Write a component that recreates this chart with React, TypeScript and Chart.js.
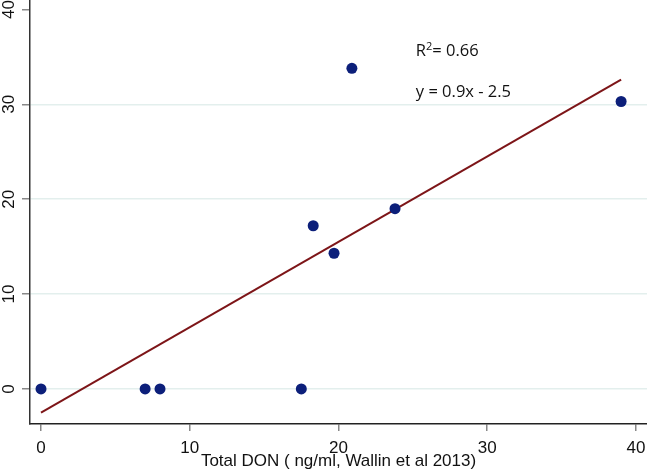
import React, { useEffect, useRef } from "react";
import { Chart, registerables } from "chart.js";

Chart.register(...registerables);

const donX: number[] = [0, 7, 8, 17.5, 18.3, 19.7, 20.9, 23.8, 39];
const donY: number[] = [0, 0, 0, 0, 17.2, 14.3, 33.8, 19.0, 30.3];
const fitX: number[] = [0, 39];
const slope = 0.9;
const intercept = -2.5;
const yTicks: number[] = [0, 10, 20, 30, 40];
const xTicks: number[] = [0, 10, 20, 30, 40];
const xTitle = "Total DON ( ng/ml, Wallin et al 2013)";
const r2Label = "0.66";
const eqLabel = "y = 0.9x - 2.5";

const annotPlugin = {
  id: "annot",
  afterDatasetsDraw(chart: any) {
    const { ctx, scales } = chart;
    const x = scales.x.getPixelForValue(25.2);
    const y1 = scales.y.getPixelForValue(35.05);
    const y2 = scales.y.getPixelForValue(30.8);
    ctx.save();
    ctx.fillStyle = "#111";
    ctx.textBaseline = "alphabetic";
    ctx.textAlign = "left";
    ctx.font = "16.5px 'Open Sans'";
    ctx.fillText("R", x, y1);
    const wR = ctx.measureText("R").width;
    ctx.font = "11px 'Open Sans'";
    ctx.fillText("2", x + wR, y1 - 6.5);
    const w2 = ctx.measureText("2").width;
    ctx.font = "16.5px 'Open Sans'";
    ctx.fillText("= " + r2Label, x + wR + w2, y1);
    ctx.fillText(eqLabel, x, y2);
    ctx.restore();
  },
};

export default function App() {
  const ref = useRef<HTMLCanvasElement | null>(null);
  useEffect(() => {
    document.body.style.margin = "0";
    const scatterData = donX.map((x, i) => ({ x, y: donY[i] }));
    const fitData = fitX.map((x) => ({ x, y: slope * x + intercept }));
    const chart = new Chart(ref.current as HTMLCanvasElement, {
      type: "scatter",
      data: {
        datasets: [
          {
            type: "scatter",
            data: scatterData,
            backgroundColor: "#0c1f7a",
            borderColor: "#0c1f7a",
            pointRadius: 5.5,
            pointHoverRadius: 5.5,
            borderWidth: 0,
          },
          {
            type: "line",
            data: fitData,
            borderColor: "#7d1518",
            borderWidth: 2,
            pointRadius: 0,
            fill: false,
          },
        ],
      },
      options: {
        responsive: false,
        animation: false,
        layout: { padding: 0, autoPadding: false },
        plugins: { legend: { display: false }, tooltip: { enabled: false } },
        scales: {
          x: {
            type: "linear",
            min: -0.74,
            max: 40.74,
            afterBuildTicks: (s: any) => {
              s.ticks = xTicks.map((v) => ({ value: v }));
            },
            afterFit: (s: any) => {
              s.height = 51;
              s.paddingLeft = 0;
              s.paddingRight = 0;
            },
            grid: {
              color: "rgba(0,0,0,0)",
              tickColor: "#888",
              tickLength: 7,
              lineWidth: 1.5,
            },
            border: { color: "#222", width: 1.5 },
            ticks: {
              color: "#111",
              font: { family: "'Liberation Sans', Arial", size: 17 },
              padding: 7,
              maxRotation: 0,
              minRotation: 0,
            },
            title: {
              display: true,
              text: xTitle,
              color: "#111",
              font: { family: "'Liberation Sans', Arial", size: 17 },
              padding: { top: 0, bottom: 3 },
            },
          },
          y: {
            type: "linear",
            min: -3.7,
            max: 41,
            afterBuildTicks: (s: any) => {
              s.ticks = yTicks.map((v) => ({ value: v }));
            },
            afterFit: (s: any) => {
              s.width = 30;
              s.paddingTop = 0;
              s.paddingBottom = 0;
            },
            grid: {
              color: (c: any) => (c.tick && c.tick.value === 40 ? "rgba(0,0,0,0)" : "#e3efed"),
              tickColor: "#888",
              tickLength: 8,
              lineWidth: 1.5,
            },
            border: { color: "#333", width: 1.5 },
            ticks: {
              color: "#111",
              font: { family: "'Liberation Sans', Arial", size: 17 },
              padding: 3,
              minRotation: 90,
              maxRotation: 90,
              crossAlign: "center",
            },
          },
        },
      },
      plugins: [annotPlugin],
    });
    return () => chart.destroy();
  }, []);
  return (
    <div style={{ position: "absolute", left: 0, top: 0, width: 647, height: 475 }}>
      <canvas ref={ref} width={647} height={475} style={{ width: 647, height: 475 }} />
    </div>
  );
}
